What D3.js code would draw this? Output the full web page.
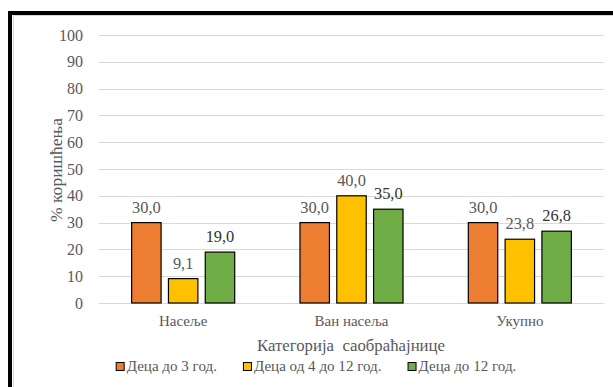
<!DOCTYPE html>
<html><head><meta charset="utf-8">
<script src="https://cdn.jsdelivr.net/npm/d3@7/dist/d3.min.js"></script>
<style>body{margin:0;background:#fff}svg{display:block}</style>
</head><body><svg id="c" width="613" height="387"></svg>
<script>
const categories = ["Насеље", "Ван насеља", "Укупно"];
const seriesNames = ["Деца до 3 год.", "Деца од 4 до 12 год.", "Деца до 12 год."];
const seriesColors = ["#ED7D31", "#FFC000", "#70AD47"];
const labelColors = ["#595959", "#595959", "#333333"];
const valuesUnder3 = [30.0, 30.0, 30.0];
const values4to12 = [9.1, 40.0, 23.8];
const valuesUnder12 = [19.0, 35.0, 26.8];
const yTicks = [0,10,20,30,40,50,60,70,80,90,100];
const yTitle = "% коришћења";
const xTitle = "Категорија  саобраћајнице";

const series = [valuesUnder3, values4to12, valuesUnder12];
const TXT = "#595959";

// pick an installed serif font
const cv = document.createElement("canvas").getContext("2d");
function w(font, s){ cv.font = font; return cv.measureText(s).width; }
const probe = "Категорија 0123456789";
let FAM = "serif";
for (const f of ["Liberation Serif","DejaVu Serif","Noto Serif"]) {
  if (w(`20px "${f}", monospace`, probe) !== w("20px monospace", probe)) { FAM = `"${f}"`; break; }
}
const FONT = FAM + ", serif";
// font size that makes a sample string match the width
function fit(sample, target){ return 20 * target / w(`20px ${FONT}`, sample); }
const fsTick = fit("100", 24);
const fsVal = fit("30,0", 28.7);
const fsCat = fit("Насеље", 48.4);
const fsTitle = fit(xTitle, 188);
const fsYTitle = fit(yTitle, 104);
const fsLeg = fit(seriesNames[0], 90.3);

const svg = d3.select("#c");
svg.append("rect").attr("width",613).attr("height",387).attr("fill","#fff");

// frame (cropped chart border)
svg.append("rect").attr("x",13.5).attr("y",15.5).attr("width",700).attr("height",500)
  .attr("fill","none").attr("stroke","#d9d9d9").attr("stroke-width",1);
svg.append("rect").attr("x",10).attr("y",13).attr("width",700).attr("height",500)
  .attr("fill","none").attr("stroke","#000").attr("stroke-width",4);

const y = d3.scaleLinear().domain([0,100]).range([303,35]);
const x0 = d3.scaleBand().domain(categories).range([99,604]).padding(0);
const x1 = d3.scaleBand().domain(d3.range(series.length)).range([0,x0.bandwidth()])
  .paddingInner(0.2).paddingOuter(0.887);

// gridlines
svg.append("g").selectAll("line").data(yTicks).join("line")
  .attr("x1",99).attr("x2",604).attr("y1",d=>Math.round(y(d))+0.5).attr("y2",d=>Math.round(y(d))+0.5)
  .attr("stroke","#d9d9d9").attr("stroke-width",1);

// y axis labels
const yAxis = d3.axisLeft(y).tickValues(yTicks).tickSize(0).tickPadding(0).tickFormat(d3.format("d"));
const ya = svg.append("g").attr("transform","translate(83,0)").call(yAxis);
ya.select(".domain").remove();
ya.attr("font-family",null).attr("font-size",null);
ya.selectAll("text").attr("fill",TXT).style("font-family",FONT).style("font-size",fsTick+"px");

// bars
const groups = svg.append("g").selectAll("g").data(categories).join("g")
  .attr("transform",c=>`translate(${x0(c)},0)`);
groups.each(function(c,ci){
  const g = d3.select(this);
  series.forEach((s,si)=>{
    g.append("rect").attr("x",x1(si)).attr("y",y(s[ci])).attr("width",x1.bandwidth())
      .attr("height",y(0)-y(s[ci])).attr("fill",seriesColors[si])
      .attr("stroke","#000").attr("stroke-width",1.2);
    g.append("text").attr("x",x1(si)+x1.bandwidth()/2).attr("y",y(s[ci])-10)
      .attr("text-anchor","middle").attr("fill",labelColors[si])
      .style("font-family",FONT).style("font-size",fsVal+"px")
      .text(d3.format(".1f")(s[ci]).replace(".",","));
  });
});

// x axis category labels
const xAxis = d3.axisBottom(x0).tickSize(0).tickPadding(0);
const xa = svg.append("g").attr("transform","translate(0,314)").call(xAxis);
xa.select(".domain").remove();
xa.attr("font-family",null).attr("font-size",null);
xa.selectAll("text").attr("fill",TXT).attr("dy",0).attr("y",12)
  .style("font-family",FONT).style("font-size",fsCat+"px");

// axis titles
svg.append("text").attr("x",351).attr("y",350.5).attr("text-anchor","middle")
  .attr("fill",TXT).style("font-family",FONT).style("font-size",fsTitle+"px")
  .style("white-space","pre").text(xTitle);
svg.append("text").attr("transform","translate(62,170) rotate(-90)").attr("text-anchor","middle")
  .attr("fill",TXT).style("font-family",FONT).style("font-size",fsYTitle+"px").text(yTitle);

// legend
const leg = svg.append("g");
let lx = 0;
seriesNames.forEach((n,i)=>{
  const it = leg.append("g").attr("transform",`translate(${lx},0)`);
  it.append("rect").attr("x",0.5).attr("y",362.5).attr("width",8).attr("height",8)
    .attr("fill",seriesColors[i]).attr("stroke","#000").attr("stroke-width",1);
  const t = it.append("text").attr("x",11).attr("y",370.5).attr("fill",TXT)
    .style("font-family",FONT).style("font-size",fsLeg+"px").text(n);
  lx += 11 + t.node().getComputedTextLength() + 26;
});
const lw = lx - 26;
leg.attr("transform",`translate(${316 - lw/2},0)`);
</script></body></html>
